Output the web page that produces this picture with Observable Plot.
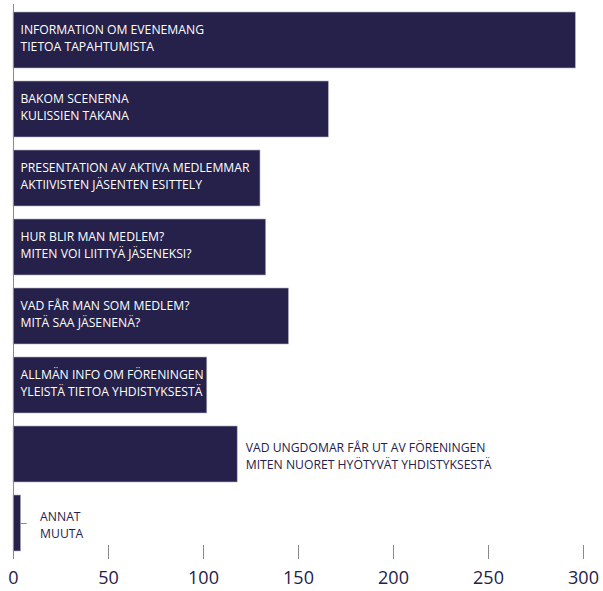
<!DOCTYPE html>
<html>
<head>
<meta charset="utf-8">
<script src="https://cdn.jsdelivr.net/npm/d3@7"></script>
<script src="https://cdn.jsdelivr.net/npm/@observablehq/plot@0.6"></script>
<style>
  html, body { margin: 0; padding: 0; background: #ffffff; }
  #chart svg { display: block; }
</style>
</head>
<body>
<div id="chart"></div>
<script>
const categories = [
  "INFORMATION OM EVENEMANG\nTIETOA TAPAHTUMISTA",
  "BAKOM SCENERNA\nKULISSIEN TAKANA",
  "PRESENTATION AV AKTIVA MEDLEMMAR\nAKTIIVISTEN JÄSENTEN ESITTELY",
  "HUR BLIR MAN MEDLEM?\nMITEN VOI LIITTYÄ JÄSENEKSI?",
  "VAD FÅR MAN SOM MEDLEM?\nMITÄ SAA JÄSENENÄ?",
  "ALLMÄN INFO OM FÖRENINGEN\nYLEISTÄ TIETOA YHDISTYKSESTÄ",
  "VAD UNGDOMAR FÅR UT AV FÖRENINGEN\nMITEN NUORET HYÖTYVÄT YHDISTYKSESTÄ",
  "ANNAT\nMUUTA"
];
const values = [296, 166, 130, 133, 145, 102, 118, 4];
const labelOutside = [false, false, false, false, false, false, true, true];
const xTicks = [0, 50, 100, 150, 200, 250, 300];

const data = categories.map((c, i) => ({cat: c, value: values[i], outside: labelOutside[i]}));
const inside = data.filter(d => !d.outside);
const outsideNear = data.filter(d => d.outside && d.value > 50);
const outsideFar = data.filter(d => d.outside && d.value <= 50);

const W = 603, H = 591, mt = 4, mb = 32, ml = 13, mr = 20;
const frameH = H - mt - mb;
const navy = "#25214a";
const grey = "#8a8a8a";
const axisFont = "'Open Sans', sans-serif";
const labelFont = "'Open Sans', sans-serif";
const fs = 12.2, lh = 1.38;

const chart = Plot.plot({
  width: W,
  height: H,
  marginTop: mt,
  marginBottom: mb,
  marginLeft: ml,
  marginRight: mr,
  style: {fontFamily: axisFont, background: "#ffffff"},
  x: {domain: [0, 300], ticks: xTicks},
  y: {domain: categories, padding: 0.19, paddingOuter: 0.1, axis: null},
  marks: [
    Plot.barX(data, {y: "cat", x: "value", fill: navy, stroke: "#b4b2c0", strokeWidth: 0.6}),
    Plot.tickX(xTicks, {x: d => d, stroke: grey, strokeWidth: 1, insetTop: frameH - 14}),
    Plot.ruleX([0], {stroke: grey, strokeWidth: 1}),
    Plot.axisX({
      ticks: xTicks,
      tickSize: 0,
      tickPadding: 12,
      line: true,
      stroke: grey,
      fill: navy,
      fontSize: 18,
      fontFamily: axisFont,
      label: null,
      tickFormat: d => String(d)
    }),
    Plot.text(inside, {
      y: "cat", x: 0, text: "cat", textAnchor: "start", dx: 7, dy: -3,
      fill: "#ffffff", fontSize: fs, lineHeight: lh, fontFamily: labelFont
    }),
    Plot.text(outsideNear, {
      y: "cat", x: "value", text: "cat", textAnchor: "start", dx: 8, dy: 1,
      fill: navy, fontSize: fs, lineHeight: lh, fontFamily: labelFont
    }),
    Plot.ruleY(outsideFar, {y: "cat", x1: "value", x2: d => d.value + 3.2, stroke: grey, strokeWidth: 1}),
    Plot.text(outsideFar, {
      y: "cat", x: "value", text: "cat", textAnchor: "start", dx: 19, dy: 1,
      fill: navy, fontSize: fs, lineHeight: lh, fontFamily: labelFont
    })
  ]
});
document.getElementById("chart").appendChild(chart);
</script>
</body>
</html>
